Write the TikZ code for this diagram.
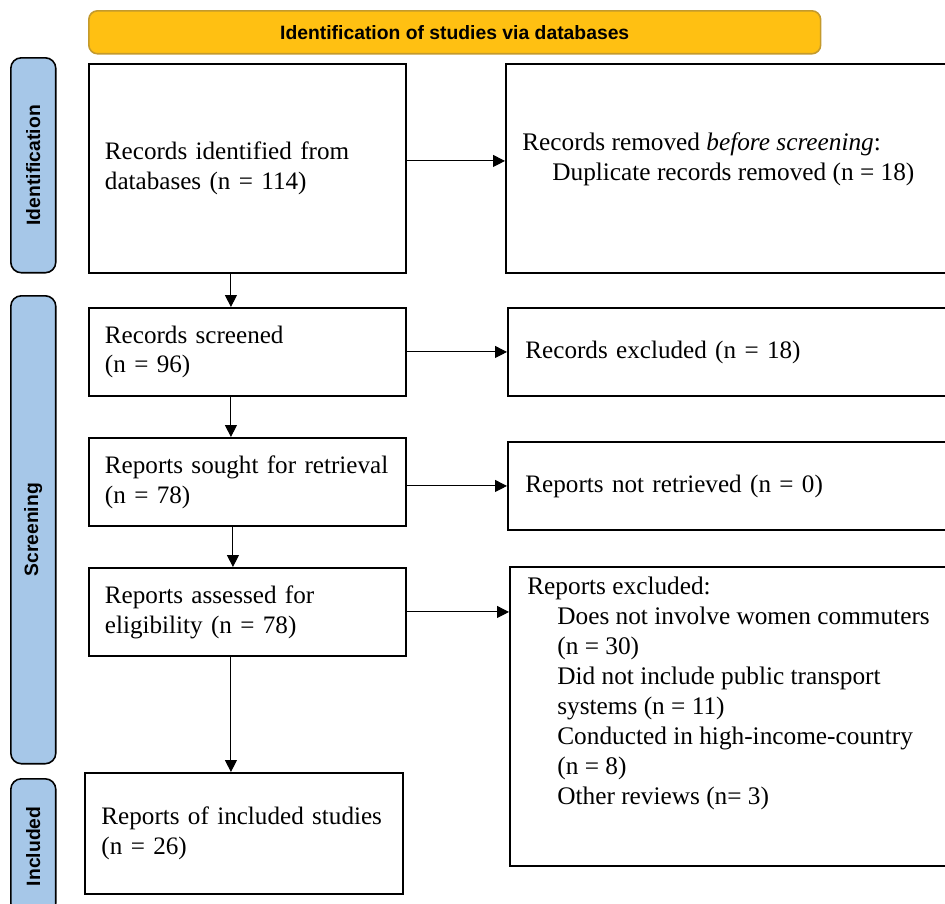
\documentclass[tikz,border=0pt]{standalone}
\usepackage{fontspec}
\setmainfont{Liberation Serif}
\setsansfont{Liberation Sans}
\usepackage{tikz}
\usetikzlibrary{arrows.meta,positioning,calc}

\definecolor{headfill}{HTML}{FFC012}
\definecolor{headline}{HTML}{C49A2C}
\definecolor{stagefill}{HTML}{A6C7E8}
\newcommand{\ind}{\hspace*{0.6cm}}

\begin{document}
\begin{tikzpicture}[x=0.02cm, y=-0.02cm,
        box/.style={rectangle, draw, line width=1.1pt, anchor=north west, align=left, inner xsep=0.32cm,
            font=\fontsize{14.3}{17}\selectfont},
        leftbox/.style={box, minimum width=6.34cm, text width=5.7cm},
        rightbox/.style={box, minimum width=8.9cm, text width=8.2cm},
        txt/.style={anchor=north west, align=left, inner sep=0pt, font=\fontsize{14.4}{17}\selectfont},
        stage/.style={rectangle, draw, line width=0.9pt, rounded corners=6pt, fill=stagefill, anchor=north west,
            minimum width=0.9cm},
        stagetxt/.style={rotate=90, font=\sffamily\bfseries\fontsize{11}{13}\selectfont},
        header/.style={rectangle, draw=headline, line width=0.9pt, rounded corners=5pt, fill=headfill, anchor=north west,
            minimum width=14.64cm, minimum height=0.86cm, font=\sffamily\bfseries\fontsize{11}{13}\selectfont},
        arr/.style={-{Triangle[length=2.4mm, width=2.4mm]}, line width=0.6pt}]

    \clip (0,0) rectangle (945,903);
    \useasboundingbox (0,0) rectangle (945,903);

    % top banner
    \node[header] (head) at (88,10) {Identification of studies via databases};

    % stages on the left
    \node[stage, minimum height=4.3cm] (sident) at (10,57) {};
    \node[stagetxt] (tident) at (sident.center) {Identification};
    \node[stage, minimum height=9.36cm] (sscreen) at (10,295) {};
    \node[stagetxt] (tscreen) at (sscreen.center) {Screening};
    \node[stage, minimum height=2.7cm] (sincl) at (10,778) {};
    \node[stagetxt] (tincl) at (sincl.center) {Included};

    % main column
    \node[leftbox, minimum height=4.18cm] (ident) at (88,63) {Records identified from\\databases (n = 114)};
    \node[leftbox, minimum height=1.76cm] (screen) at (88,307) {Records screened\\(n = 96)};
    \node[leftbox, minimum height=1.76cm] (sought) at (88,437) {Reports sought for retrieval\\(n = 78)};
    \node[leftbox, minimum height=1.76cm] (elig) at (88,567) {Reports assessed for\\eligibility (n = 78)};
    \node[leftbox, minimum height=2.42cm, minimum width=6.36cm] (incl) at (84,772) {Reports of included studies\\(n = 26)};

    % exclusions
    \node[rightbox, minimum width=8.76cm, minimum height=4.18cm] (removed) at (505,63) {};
    \node[txt, anchor=west] (removedtxt) at ($(removed.west)+(17,-9)$)
        {Records removed \emph{before screening}:\\
         \ind Duplicate records removed (n = 18)};
    \node[rightbox, minimum height=1.76cm] (excl) at (507,307) {Records excluded (n = 18)};
    \node[rightbox, minimum height=1.76cm] (notret) at (507,441) {Reports not retrieved (n = 0)};
    \node[rightbox, minimum height=5.98cm] (rexcl) at (509,566) {};
    \node[txt] (rexcltxt) at ($(rexcl.north west)+(18,11)$)
        {Reports excluded:\\
         \ind Does not involve women commuters\\
         \ind (n = 30)\\
         \ind Did not include public transport\\
         \ind systems (n = 11)\\
         \ind Conducted in high-income-country\\
         \ind (n = 8)\\
         \ind Other reviews (n= 3)};

    % arrows
    \draw[arr] ([yshift=0.15cm]ident.east) -- ([yshift=0.15cm]ident.east -| removed.west);
    \draw[arr] ([xshift=-0.33cm]ident.south) -- ([xshift=-0.33cm]ident.south |- screen.north);
    \draw[arr] (screen.east) -- (screen.east -| excl.west);
    \draw[arr] ([xshift=-0.33cm]screen.south) -- ([xshift=-0.33cm]screen.south |- sought.north);
    \draw[arr] ([yshift=-0.08cm]sought.east) -- ([yshift=-0.08cm]sought.east -| notret.west);
    \draw[arr] ([xshift=-0.29cm]sought.south) -- ([xshift=-0.29cm]sought.south |- elig.north);
    \draw[arr] (elig.east) -- (elig.east -| rexcl.west);
    \draw[arr] ([xshift=-0.33cm]elig.south) -- ([xshift=-0.33cm]elig.south |- incl.north);
\end{tikzpicture}
\end{document}
